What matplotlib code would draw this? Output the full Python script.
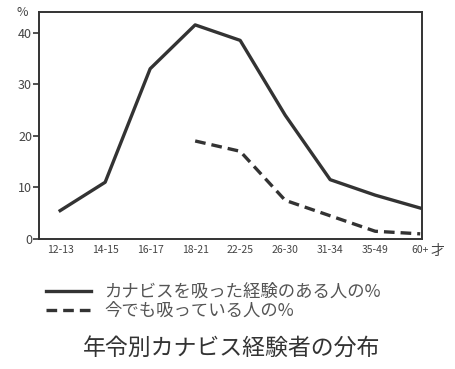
import matplotlib.pyplot as plt
import numpy as np

plt.rcParams['font.family'] = ['Noto Sans CJK JP', 'DejaVu Sans']

age_groups = ['12-13', '14-15', '16-17', '18-21', '22-25', '26-30', '31-34', '35-49', '60+']
ever_used = [5.5, 11, 33, 41.5, 38.5, 24, 11.5, 8.5, 6]
current_use = [None, None, None, 19, 17, 7.5, 4.5, 1.5, 1]

ink = '#333333'

fig = plt.figure(figsize=(4.55, 3.69), dpi=100)
ax = fig.add_axes([39 / 455, 1 - 239 / 369, 383 / 455, 227 / 369])

x = np.arange(len(age_groups))
cur = np.array([np.nan if v is None else v for v in current_use], dtype=float)

ax.plot(x, ever_used, color=ink, linewidth=2.4,
        label='カナビスを吸った経験のある人の%')
ax.plot(x, cur, color=ink, linewidth=2.4, linestyle=(0, (3.2, 1.8)),
        label='今でも吸っている人の%')

ax.set_xlim(-0.47, 8.04)
ax.set_ylim(0, 44)
ax.set_yticks([0, 10, 20, 30, 40])
ax.set_xticks(x)
ax.set_xticklabels(age_groups, fontsize=7.5, color='#444444')
ax.tick_params(axis='x', length=0, pad=4)
ax.tick_params(axis='y', length=4, width=1.2, color=ink,
               labelsize=9, labelcolor='#444444', pad=1)
for s in ax.spines.values():
    s.set_color(ink)
    s.set_linewidth(1.4)

fig.text(22 / 455, 1 - 12 / 369, '%', fontsize=9, color='#444444',
         ha='center', va='center')
fig.text(437 / 455, 1 - 251 / 369, '才', fontsize=10, color='#444444',
         ha='center', va='center')

fig.legend(loc='upper left', bbox_to_anchor=(46 / 455, 1 - 283 / 369),
           frameon=False, fontsize=12.5, handlelength=2.6, handletextpad=0.75,
           labelspacing=0.05, borderpad=0, borderaxespad=0,
           labelcolor='#555555')

fig.text(232 / 455, 1 - 348 / 369, '年令別カナビス経験者の分布',
         fontsize=16.5, color='#333333', ha='center', va='center')

fig.savefig('out.png', dpi=100)
